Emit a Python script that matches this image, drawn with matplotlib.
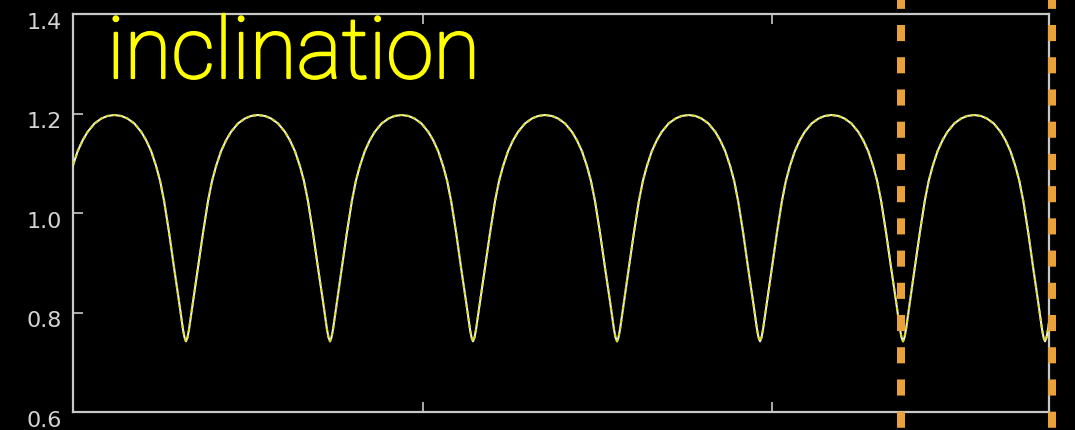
import matplotlib
matplotlib.use("Agg")
import matplotlib.pyplot as plt
import matplotlib.transforms as mtransforms
import matplotlib.patheffects as pe

# ---- data ----
# x positions of the sharp minima of the inclination curve (x ticks at 0, 1, 2)
minima_x = [-0.0863, 0.3233, 0.7353, 1.1445, 1.5565, 1.9657, 2.3748, 2.7811, 3.1910]
# shape of one half-arch: fraction of half-period from a minimum -> value
profile_frac = [0.0, 0.021, 0.042, 0.069, 0.097, 0.167, 0.236, 0.306, 0.361, 0.417,
                0.486, 0.556, 0.625, 0.722, 0.819, 0.903, 1.0]
profile_vals = [0.742, 0.750, 0.766, 0.793, 0.822, 0.890, 0.960, 1.024, 1.064, 1.094,
                1.124, 1.146, 1.163, 1.180, 1.190, 1.195, 1.197]

# vertical orange dashed marker lines
marker_x = [2.369, 2.801]

y_ticks = [0.6, 0.8, 1.0, 1.2, 1.4]
y_ticklabels = ["0.6", "0.8", "1.0", "1.2", "1.4"]
x_ticks = [0, 1, 2]
title_text = "inclination"

# ---- build the curve from the read arches ----
xs, ys = [], []
for a, b in zip(minima_x[:-1], minima_x[1:]):
    half = (b - a) / 2.0
    for f, v in zip(profile_frac, profile_vals):
        xs.append(a + f * half)
        ys.append(v)
    for f, v in zip(reversed(profile_frac[:-1]), reversed(profile_vals[:-1])):
        xs.append(b - f * half)
        ys.append(v)

fig = plt.figure(figsize=(10.75, 4.31), dpi=100, facecolor="black")
ax = fig.add_axes([73 / 1075, 18 / 431, (1049 - 73) / 1075, (413 - 15) / 431])
ax.set_facecolor("black")

ax.plot(xs, ys, color="#f4f4d0", lw=1.5, solid_joinstyle="round", zorder=3)
ax.plot(xs, ys, color="#d8d820", lw=1.5, linestyle=(0, (1.6, 1.6)), zorder=4)

ax.set_xlim(0, 2.7925)
ax.set_ylim(0.6, 1.4)

for mx in marker_x:
    ax.axvline(mx, ymin=-0.05, ymax=1.05, color="#E9A23B", lw=5.8,
               linestyle=(3.6, (2, 2)), dash_capstyle="butt", clip_on=False, zorder=5)

spine_col = "#c8c8c8"
for s in ax.spines.values():
    s.set_color(spine_col)
    s.set_linewidth(1.6)

ax.set_yticks(y_ticks)
ax.set_yticklabels(y_ticklabels)
ax.set_xticks(x_ticks)
ax.tick_params(axis="both", direction="in", length=7, width=1.2, color=spine_col,
               top=True, bottom=True, left=True, right=False,
               labelbottom=False, labelcolor="#d4d4d4", labelsize=16, pad=8)
offset = mtransforms.ScaledTranslation(0, -0.06, fig.dpi_scale_trans)
for lab in ax.get_yticklabels():
    lab.set_transform(lab.get_transform() + offset)
    lab.set_fontfamily("DejaVu Sans")

fig.text(107 / 1075, (431 - 79) / 431, title_text, color="#ffff00", fontsize=61.5,
         family=["Roboto", "DejaVu Sans"], fontweight="light", va="baseline", ha="left",
         path_effects=[pe.withStroke(linewidth=1.6, foreground="#ffff00")])

fig.savefig("out.png", dpi=100, facecolor="black")
